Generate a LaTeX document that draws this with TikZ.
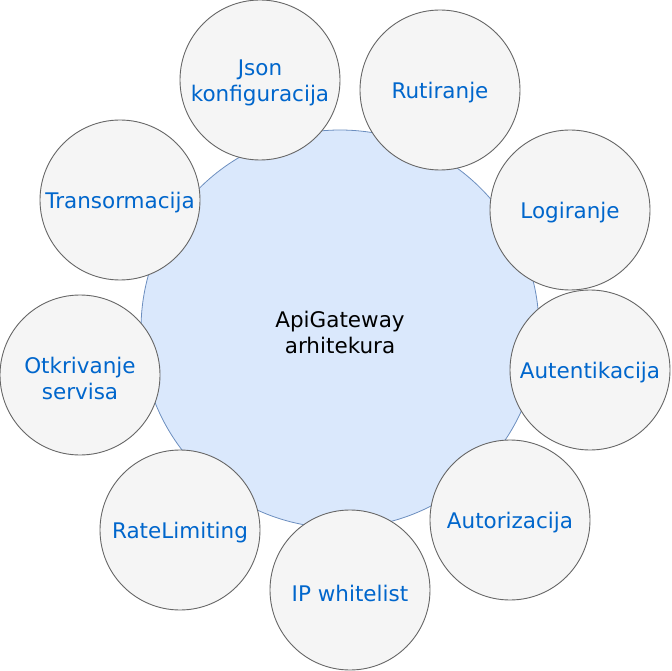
\documentclass[tikz,border=0pt]{standalone}
\usepackage{fontspec}
\setmainfont{DejaVu Sans}
\definecolor{smallfill}{HTML}{F5F5F5}
\definecolor{smalldraw}{HTML}{666666}
\definecolor{bigfill}{HTML}{DAE8FC}
\definecolor{bigdraw}{HTML}{6C8EBF}
\definecolor{txtblue}{HTML}{0066CC}
\begin{document}
\begin{tikzpicture}[x=1pt,y=-1pt,
  big/.style={circle,fill=bigfill,draw=bigdraw,line width=0.8pt,minimum size=398pt,inner sep=0pt},
  feat/.style={circle,fill=smallfill,draw=smalldraw,line width=0.9pt,minimum size=160pt,inner sep=0pt},
  lbl/.style={align=center,inner sep=0pt,yshift=-3pt,font=\fontsize{21.5}{26}\selectfont},
  flbl/.style={lbl,text=txtblue}]
\useasboundingbox (0,0) rectangle (672,671);
\node[big,label={[lbl]center:{ApiGateway\\arhitekura}}] (core) at (340,329) {};
\node[feat,label={[flbl]center:{Json\\konfiguracija}}] (json) at (260,80) {};
\node[feat,label={[flbl]center:{Rutiranje}}] (rut) at (440,90) {};
\node[feat,label={[flbl]center:{Logiranje}}] (log) at (570,210) {};
\node[feat,label={[flbl]center:{Autentikacija}}] (aut) at (590,370) {};
\node[feat,label={[flbl]center:{Autorizacija}}] (autz) at (510,520) {};
\node[feat,label={[flbl]center:{IP whitelist}}] (ip) at (350,590) {};
\node[feat,label={[flbl]center:{RateLimiting}}] (rate) at (180,530) {};
\node[feat,label={[flbl]center:{Otkrivanje\\servisa}}] (otk) at (80,375) {};
\node[feat,label={[flbl]center:{Transormacija}}] (tra) at (120,200) {};
\end{tikzpicture}
\end{document}
